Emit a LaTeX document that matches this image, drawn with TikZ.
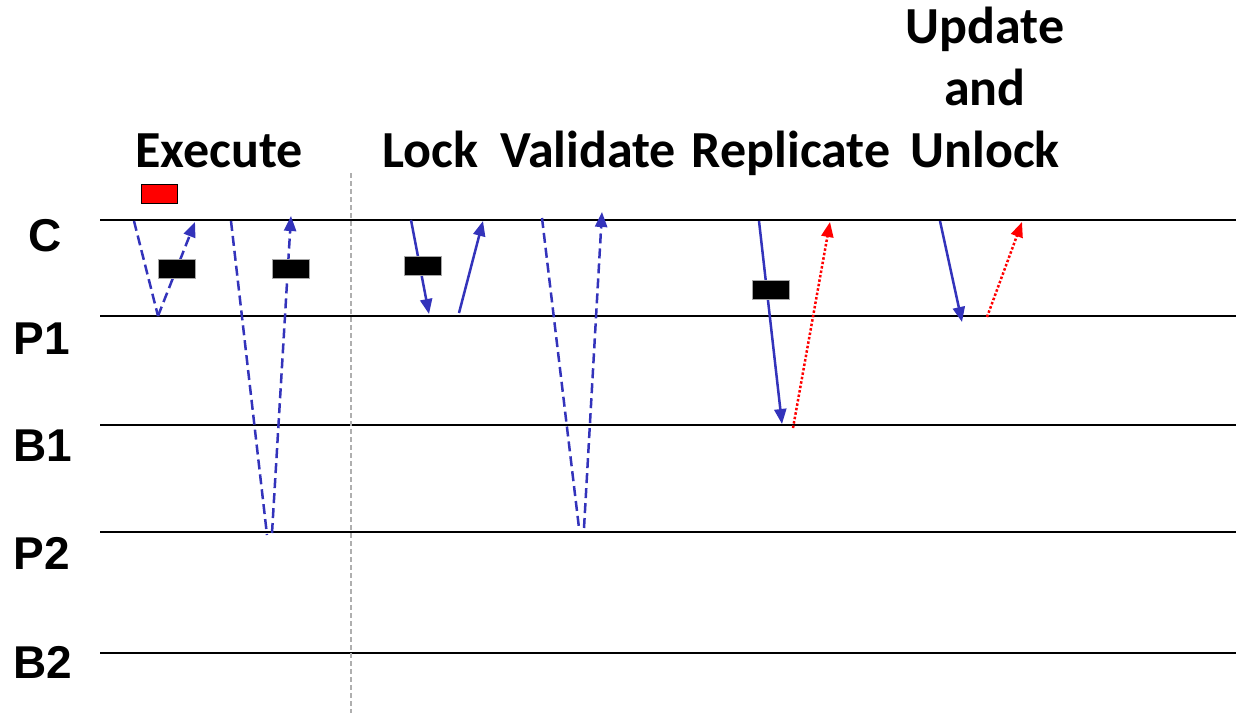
\documentclass[tikz,border=0pt]{standalone}
\usepackage{fontspec}
\setmainfont{Carlito}
\newfontfamily\lanefont{Liberation Sans}
\usetikzlibrary{arrows.meta}
\definecolor{msgblue}{RGB}{51,51,187}
\definecolor{sepgray}{RGB}{175,175,175}
\begin{document}
\begin{tikzpicture}[x=1pt,y=-1pt,
  lane/.style={line width=2.2pt,black},
  lanelabel/.style={font=\lanefont\bfseries\fontsize{46}{46}\selectfont,anchor=center,inner sep=0pt},
  phase/.style={font=\bfseries\fontsize{52}{62}\selectfont,align=center,anchor=base,inner sep=0pt},
  tip/.style={-{Triangle[length=15pt,width=12pt]}},
  req/.style={line width=2.5pt,msgblue},
  reqdash/.style={req,dash pattern=on 10pt off 5pt},
  reply/.style={line width=2.5pt,red,dash pattern=on 2.5pt off 2pt},
  busy/.style={draw=gray!70,line width=0.6pt,fill=black,minimum width=37pt,minimum height=19pt,inner sep=0pt},
  pending/.style={draw=black,line width=0.6pt,fill=red,minimum width=36pt,minimum height=19pt,inner sep=0pt}]
\useasboundingbox (0,0) rectangle (1236,713);

% process time lines
\foreach \n/\y in {C/220,P1/316,B1/425,P2/532,B2/653}{
  \coordinate (\n-w) at (100,\y);
  \coordinate (\n-e) at (1236,\y);
  \draw[lane] (\n-w) -- (\n-e);
}
\node[lanelabel] (lC) at (45,236) {C};
\node[lanelabel] (lP1) at (42,339) {P1};
\node[lanelabel] (lB1) at (43,446) {B1};
\node[lanelabel] (lP2) at (42,553) {P2};
\node[lanelabel] (lB2) at (43,662) {B2};

% separator between execution and commit
\coordinate (sep-top) at (351,173);
\coordinate (sep-bot) at (351,713);
\draw[sepgray,line width=1.2pt,dash pattern=on 5pt off 3pt] (sep-top) -- (sep-bot);

% phase titles
\node[phase] (tExec) at (219,167) {Execute};
\node[phase] (tLock) at (430,167) {Lock};
\node[phase] (tVal) at (588,167) {Validate};
\node[phase] (tRep) at (791,167) {Replicate};
\node[phase] (tUpd) at (985,167) {Update\\and\\Unlock};

% message end points
\coordinate (e1a) at (134,221);
\coordinate (e1b) at (158,316);
\coordinate (e1c) at (195,222);
\coordinate (e2a) at (231,221);
\coordinate (e2b) at (267,535);
\coordinate (e2c) at (272,533);
\coordinate (e2d) at (291,216);
\coordinate (l1a) at (411,220);
\coordinate (l1b) at (429,314);
\coordinate (l2a) at (459,313);
\coordinate (l2b) at (483,221);
\coordinate (v1a) at (542,218);
\coordinate (v1b) at (579,528);
\coordinate (v2a) at (584,528);
\coordinate (v2b) at (602,212);
\coordinate (r1a) at (759,221);
\coordinate (r1b) at (782,424);
\coordinate (r2a) at (793,428);
\coordinate (r2b) at (830,222);
\coordinate (u1a) at (940,221);
\coordinate (u1b) at (962,322);
\coordinate (u2a) at (987,317);
\coordinate (u2b) at (1022,222);

% execute: reads from P1 and P2
\draw[reqdash] (e1a) -- (e1b);
\draw[reqdash,tip] (e1b) -- (e1c);
\draw[reqdash] (e2a) -- (e2b);
\draw[reqdash,tip] (e2c) -- (e2d);

% lock
\draw[req,tip] (l1a) -- (l1b);
\draw[req,tip] (l2a) -- (l2b);

% validate
\draw[reqdash] (v1a) -- (v1b);
\draw[reqdash,tip] (v2a) -- (v2b);

% replicate
\draw[req,tip] (r1a) -- (r1b);
\draw[reply,tip] (r2a) -- (r2b);

% update and unlock
\draw[req,tip] (u1a) -- (u1b);
\draw[reply,tip] (u2a) -- (u2b);

% waiting periods
\node[pending] (w0) at (159,193.5) {};
\node[busy] (w1) at (176.5,268.5) {};
\node[busy] (w2) at (291,268.5) {};
\node[busy] (w3) at (422.5,266) {};
\node[busy] (w4) at (770.5,290) {};
\end{tikzpicture}
\end{document}
